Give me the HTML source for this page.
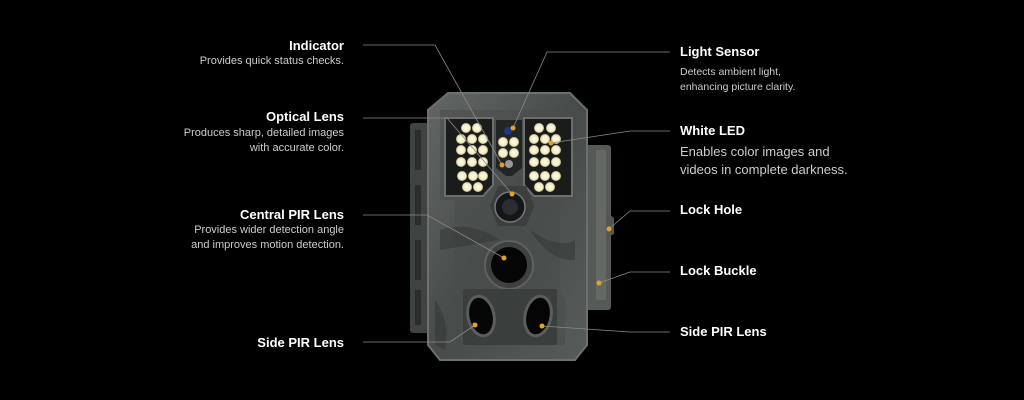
<!DOCTYPE html>
<html><head><meta charset="utf-8"><style>
html,body{margin:0;padding:0;background:#000;}
body{width:1024px;height:400px;position:relative;overflow:hidden;font-family:"Liberation Sans",sans-serif;color:#fff;}
.t{position:absolute;font-weight:bold;font-size:13px;white-space:nowrap;line-height:15px;}
.d{position:absolute;font-size:11px;color:#ccc;white-space:nowrap;line-height:15px;}
.L{right:680px;text-align:right;}
.R{left:680px;}
</style></head><body>
<svg width="1024" height="400" style="position:absolute;left:0;top:0">
<defs>
<linearGradient id="g" x1="0" y1="0" x2="1" y2="1"><stop offset="0" stop-color="#626664"/><stop offset="0.5" stop-color="#474b49"/><stop offset="1" stop-color="#575b59"/></linearGradient>
<radialGradient id="led"><stop offset="0" stop-color="#fffbe8"/><stop offset="0.7" stop-color="#f4eec8"/><stop offset="1" stop-color="#b8b08a"/></radialGradient>
</defs>
<!-- left strap -->
<rect x="410" y="123" width="28" height="210" rx="3" fill="#3f4341"/>
<g fill="#2a2d2c"><rect x="415" y="130" width="6" height="40"/><rect x="415" y="185" width="6" height="40"/><rect x="415" y="240" width="6" height="40"/><rect x="415" y="290" width="6" height="35"/></g>
<!-- right strap -->
<rect x="580" y="145" width="31" height="165" rx="3" fill="#555a57"/>
<rect x="596" y="150" width="10" height="150" fill="#646966"/>
<path d="M606 212 L614 218 L614 234 L606 238Z" fill="#555"/>
<!-- body -->
<path d="M448 93 L570 93 L587 110 L587 345 L575 360 L440 360 L428 345 L428 110 Z" fill="url(#g)" stroke="#6c706e" stroke-width="2"/>
<path d="M440 110 L575 110 L575 200 L560 200 L560 290 L565 300 L565 345 L450 345 L450 300 L455 290 L455 200 L440 200 Z" fill="#4a4e4c" opacity="0.6"/>
<g fill="#303432" opacity="0.5">
<path d="M440 230 Q470 220 500 240 Q470 245 440 250Z"/><path d="M530 230 Q560 250 575 240 L575 260 Q550 262 530 230Z"/><path d="M435 300 Q450 320 445 350 L435 345Z"/>
</g>
<!-- LED panels -->
<path d="M445 118 L493 118 L493 185 L483 196 L445 196 Z" fill="#1a1c1b" stroke="#6a6f6c" stroke-width="2"/>
<path d="M524 118 L572 118 L572 196 L534 196 L524 185 Z" fill="#1a1c1b" stroke="#6a6f6c" stroke-width="2"/>
<path d="M496 120 L522 120 L522 168 L512 176 L506 176 L496 168 Z" fill="#222524"/>
<!-- lens -->
<polygon points="498,186 526,186 534,206 526,226 498,226 490,206" fill="#3a3e3c"/>
<circle cx="510" cy="207" r="15" fill="#151716" stroke="#777" stroke-width="1.5"/>
<circle cx="510" cy="207" r="8" fill="#2a2d33"/>
<!-- central PIR -->
<circle cx="509" cy="265" r="24" fill="#3d413f" stroke="#5e625f" stroke-width="2"/>
<circle cx="509" cy="265" r="18" fill="#050505"/>
<!-- side PIR -->
<rect x="463" y="289" width="94" height="56" rx="2" fill="#3a3e3c"/>
<ellipse cx="481" cy="316" rx="13" ry="20" transform="rotate(-12 481 316)" fill="#050505" stroke="#5a5e5b" stroke-width="3"/>
<ellipse cx="538" cy="316" rx="13" ry="20" transform="rotate(12 538 316)" fill="#050505" stroke="#5a5e5b" stroke-width="3"/>
<!-- LEDs -->
<g fill="url(#led)">
<circle cx="466" cy="128" r="5"/><circle cx="477" cy="128" r="5"/>
<circle cx="461" cy="139" r="5"/><circle cx="472" cy="139" r="5"/><circle cx="483" cy="139" r="5"/>
<circle cx="461" cy="150" r="5"/><circle cx="472" cy="150" r="5"/><circle cx="483" cy="150" r="5"/>
<circle cx="461" cy="162" r="5"/><circle cx="472" cy="162" r="5"/><circle cx="483" cy="162" r="5"/>
<circle cx="462" cy="176" r="5"/><circle cx="473" cy="176" r="5"/><circle cx="483" cy="176" r="5"/>
<circle cx="467" cy="187" r="5"/><circle cx="478" cy="187" r="5"/>
<circle cx="539" cy="128" r="5"/><circle cx="551" cy="128" r="5"/>
<circle cx="534" cy="139" r="5"/><circle cx="545" cy="139" r="5"/><circle cx="556" cy="139" r="5"/>
<circle cx="534" cy="150" r="5"/><circle cx="545" cy="150" r="5"/><circle cx="556" cy="150" r="5"/>
<circle cx="534" cy="162" r="5"/><circle cx="545" cy="162" r="5"/><circle cx="556" cy="162" r="5"/>
<circle cx="534" cy="176" r="5"/><circle cx="545" cy="176" r="5"/><circle cx="556" cy="176" r="5"/>
<circle cx="539" cy="187" r="5"/><circle cx="550" cy="187" r="5"/>
<circle cx="503" cy="142" r="5"/><circle cx="514" cy="142" r="5"/>
<circle cx="503" cy="153" r="5"/><circle cx="514" cy="153" r="5"/>
</g>
<circle cx="508" cy="131" r="4" fill="#1c3a80"/>
<circle cx="509" cy="164" r="4" fill="#999"/>
<!-- connector lines -->
<g stroke="#8a8a8a" stroke-width="0.8" fill="none">
<polyline points="363,45 435,45 502,165"/>
<polyline points="363,118 447,118 512,194"/>
<polyline points="363,215 427,215 504,258"/>
<polyline points="363,342 450,342 475,325"/>
<polyline points="670,52 547,52 513,128"/>
<polyline points="670,131 630,131 551,143"/>
<polyline points="670,211 630,211 609,229"/>
<polyline points="670,272 630,272 599,283"/>
<polyline points="670,332 630,332 542,326"/>
</g>
<g fill="#e3a12a">
<circle cx="502" cy="165" r="2.5"/><circle cx="512" cy="194" r="2.5"/><circle cx="504" cy="258" r="2.5"/>
<circle cx="475" cy="325" r="2.5"/><circle cx="513" cy="128" r="2.5"/><circle cx="551" cy="143" r="2.5"/>
<circle cx="609" cy="229" r="2.5"/><circle cx="599" cy="283" r="2.5"/><circle cx="542" cy="326" r="2.5"/>
</g>
</svg>
<div class="t L" style="top:38px">Indicator</div>
<div class="d L" style="top:54px">Provides quick status checks.</div>
<div class="t L" style="top:109px">Optical Lens</div>
<div class="d L" style="top:126px">Produces sharp, detailed images</div>
<div class="d L" style="top:141px">with accurate color.</div>
<div class="t L" style="top:207px">Central PIR Lens</div>
<div class="d L" style="top:223px">Provides wider detection angle</div>
<div class="d L" style="top:238px">and improves motion detection.</div>
<div class="t L" style="top:335px">Side PIR Lens</div>
<div class="t R" style="top:44px">Light Sensor</div>
<div class="d R" style="top:65px;font-size:10.5px">Detects ambient light,</div>
<div class="d R" style="top:80px;font-size:10.5px">enhancing picture clarity.</div>
<div class="t R" style="top:123px">White LED</div>
<div class="d R" style="top:143px;font-size:13px;line-height:18px">Enables color images and<br>videos in complete darkness.</div>
<div class="t R" style="top:202px">Lock Hole</div>
<div class="t R" style="top:263px">Lock Buckle</div>
<div class="t R" style="top:324px">Side PIR Lens</div>
</body></html>
